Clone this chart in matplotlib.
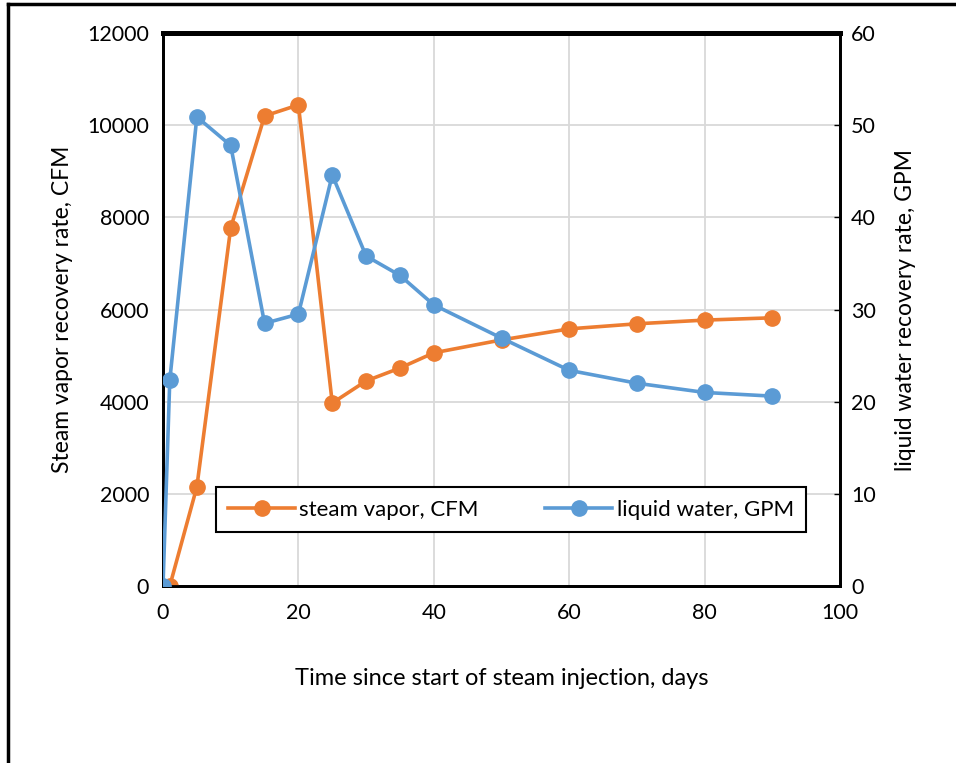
import matplotlib.pyplot as plt
from matplotlib.lines import Line2D

plt.rcParams['font.family'] = ['Lato', 'DejaVu Sans']

# steam vapor, CFM (left axis)
days_vapor = [1, 5, 10, 15, 20, 25, 30, 35, 40, 50, 60, 70, 80, 90]
vapor_cfm = [0, 2150, 7770, 10200, 10440, 3970, 4450, 4730, 5060, 5340, 5580, 5690, 5770, 5820]

# liquid water, GPM (right axis)
days_water = [0, 1, 5, 10, 15, 20, 25, 30, 35, 40, 50, 60, 70, 80, 90]
water_gpm = [0, 22.3, 50.9, 47.8, 28.5, 29.5, 44.6, 35.8, 33.7, 30.5, 26.9, 23.4, 22.0, 21.0, 20.6]

orange = "#ED7D31"
blue = "#5B9BD5"

fig = plt.figure(figsize=(9.56, 7.63), dpi=100)
ax = fig.add_axes([0.1705, 0.232, 0.7082, 0.7247])
ax2 = ax.twinx()

ax.plot(days_vapor, vapor_cfm, color=orange, lw=2.6, marker="o", ms=11, zorder=3)
ax2.plot(days_water, water_gpm, color=blue, lw=2.6, marker="o", ms=11, zorder=3)

ax.set_xlim(0, 100)
ax.set_ylim(0, 12000)
ax2.set_ylim(0, 60)
ax.set_xticks(range(0, 101, 20))
ax.set_yticks(range(0, 12001, 2000))
ax2.set_yticks(range(0, 61, 10))

ax.grid(True, color="#D9D9D9", lw=1.3)
ax.set_axisbelow(True)

for a in (ax, ax2):
    a.tick_params(labelsize=15.5, length=4, width=1)
    for s in ("left", "right", "bottom"):
        a.spines[s].set_linewidth(2)
        a.spines[s].set_color("black")
    a.spines["top"].set_linewidth(3.5)
ax.tick_params(axis="x", length=0, pad=12)
ax.tick_params(axis="y", length=0, pad=10)
ax2.tick_params(axis="y", length=4, pad=8, direction="in")

ax.set_xlabel("Time since start of steam injection, days", fontsize=17, labelpad=33)
ax.set_ylabel("Steam vapor recovery rate, CFM", fontsize=16.5, labelpad=10)
ax2.set_ylabel("liquid water recovery rate, GPM", fontsize=16.5, labelpad=14)

handles = [Line2D([], [], color=orange, lw=2.6, marker="o", ms=11),
           Line2D([], [], color=blue, lw=2.6, marker="o", ms=11)]
leg = ax2.legend(handles, ["steam vapor, CFM", "liquid water, GPM"], ncol=2,
                 loc="center", bbox_to_anchor=(0.514, 0.138), fontsize=16,
                 frameon=True, fancybox=False, edgecolor="black", framealpha=1,
                 handlelength=3.0, handletextpad=0.2, columnspacing=3.0,
                 borderpad=0.55, borderaxespad=0)
leg.get_frame().set_linewidth(1.5)

# outer frame lines (left and top)
fig.add_artist(Line2D([0.008, 0.008], [0, 0.995], color="black", lw=2.5, transform=fig.transFigure))
fig.add_artist(Line2D([0.008, 1.0], [0.995, 0.995], color="black", lw=2.5, transform=fig.transFigure))

fig.savefig("out.png", dpi=100)
